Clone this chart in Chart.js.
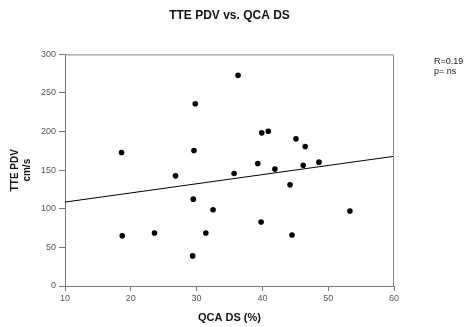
<!DOCTYPE html>
<html>
<head>
<meta charset="utf-8">
<script src="https://cdn.jsdelivr.net/npm/chart.js@4"></script>
<style>
  html, body { margin: 0; padding: 0; background: #fff; }
  #wrap { width: 471px; height: 327px; }
</style>
</head>
<body>
<div id="wrap"><canvas id="c" width="471" height="327"></canvas></div>
<script>
const chartTitle = 'TTE PDV vs. QCA DS';
const xTitle = 'QCA DS (%)';
const yTitle = ['TTE PDV', 'cm/s'];
const statsText = ['R=0.19', 'p= ns'];

const qcaDS = [18.6, 18.7, 23.6, 26.8, 29.8, 29.6, 29.5, 29.4, 32.5, 31.4, 36.3, 35.7,
               39.9, 40.9, 39.3, 41.9, 39.8, 45.1, 46.5, 46.2, 48.6, 44.2, 44.5, 53.3];
const ttePDV = [173, 65, 68.6, 142.7, 236, 175.5, 112.5, 39, 98.7, 68.6, 273, 145.7,
                198.4, 200.5, 158.7, 151.4, 82.8, 190.6, 180.7, 156.5, 160.4, 131, 66, 97];
const fitX = [10, 60];
const fitY = [108.7, 168];

const xTicks = [10, 20, 30, 40, 50, 60];
const yTicks = [0, 50, 100, 150, 200, 250, 300];

const points = qcaDS.map((x, i) => ({ x: x, y: ttePDV[i] }));
const fitLine = fitX.map((x, i) => ({ x: x, y: fitY[i] }));

const boxPlugin = {
  id: 'boxAndStats',
  afterDraw(chart) {
    const { ctx, chartArea: a } = chart;
    ctx.save();
    ctx.strokeStyle = '#888';
    ctx.lineWidth = 1;
    ctx.beginPath();
    ctx.moveTo(a.left, a.top + 0.5);
    ctx.lineTo(a.right - 0.5, a.top + 0.5);
    ctx.lineTo(a.right - 0.5, a.bottom);
    ctx.stroke();
    ctx.fillStyle = '#222';
    ctx.font = '9px "Liberation Sans", Arial, sans-serif';
    ctx.textAlign = 'left';
    ctx.textBaseline = 'middle';
    ctx.fillText(statsText[0], 434, 62);
    ctx.fillText(statsText[1], 434, 72);
    ctx.restore();
  }
};

new Chart(document.getElementById('c'), {
  type: 'scatter',
  data: {
    datasets: [
      {
        data: points,
        backgroundColor: '#000',
        borderColor: '#000',
        pointRadius: 2.8,
        pointHoverRadius: 2.8,
        borderWidth: 0
      },
      {
        data: fitLine,
        showLine: true,
        borderColor: '#000',
        borderWidth: 1,
        pointRadius: 0,
        fill: false
      }
    ]
  },
  options: {
    responsive: false,
    animation: false,
    events: [],
    layout: { padding: { left: 0, right: 77, top: 0, bottom: 0 } },
    plugins: {
      legend: { display: false },
      tooltip: { enabled: false },
      title: {
        display: true,
        text: chartTitle,
        fullSize: false,
        color: '#111',
        font: { family: '"Liberation Sans", Arial, sans-serif', size: 12, weight: 'bold' },
        padding: { top: 8, bottom: 32 }
      }
    },
    scales: {
      x: {
        type: 'linear',
        min: 10, max: 60,
        afterFit(s) { s.height = 41; },
        afterBuildTicks(s) { s.ticks = xTicks.map(v => ({ value: v })); },
        grid: { drawOnChartArea: false, drawTicks: true, tickLength: 5, color: '#777' },
        border: { display: true, color: '#777' },
        ticks: {
          color: '#555', padding: 2,
          font: { family: '"Liberation Sans", Arial, sans-serif', size: 9 }
        },
        title: {
          display: true, text: xTitle, color: '#111',
          font: { family: '"Liberation Sans", Arial, sans-serif', size: 11, weight: 'bold' },
          padding: { top: 2, bottom: 2 }
        }
      },
      y: {
        type: 'linear',
        min: 0, max: 300,
        afterFit(s) { s.width = 65; },
        afterBuildTicks(s) { s.ticks = yTicks.map(v => ({ value: v })); },
        grid: { drawOnChartArea: false, drawTicks: true, tickLength: 6, color: '#777' },
        border: { display: true, color: '#777' },
        ticks: {
          color: '#555', padding: 3,
          font: { family: '"Liberation Sans", Arial, sans-serif', size: 9 }
        },
        title: {
          display: true, text: yTitle, color: '#111',
          font: { family: '"Liberation Sans", Arial, sans-serif', size: 10, weight: 'bold' },
          padding: { top: 9, bottom: 0 }
        }
      }
    }
  },
  plugins: [boxPlugin]
});
</script>
</body>
</html>
